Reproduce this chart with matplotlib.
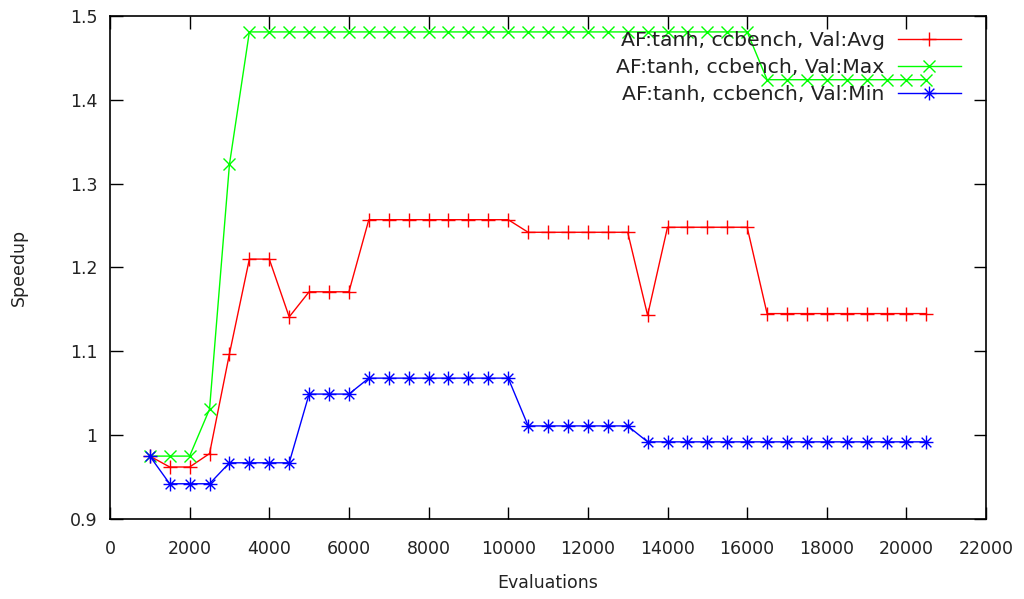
import matplotlib
matplotlib.use('Agg')
import matplotlib.pyplot as plt
from matplotlib.path import Path
from matplotlib.ticker import FuncFormatter

# Evaluations (x) and speedup per validation statistic
evals = list(range(1000, 21000, 500))

avg = [0.975, 0.962, 0.962, 0.978, 1.097, 1.210, 1.210, 1.141, 1.171, 1.171,
       1.171, 1.257, 1.257, 1.257, 1.257, 1.257, 1.257, 1.257, 1.257, 1.242,
       1.242, 1.242, 1.242, 1.242, 1.242, 1.143, 1.248, 1.248, 1.248, 1.248,
       1.248, 1.145, 1.145, 1.145, 1.145, 1.145, 1.145, 1.145, 1.145, 1.145]

vmax = [0.975, 0.975, 0.975, 1.031, 1.323, 1.481, 1.481, 1.481, 1.481, 1.481,
        1.481, 1.481, 1.481, 1.481, 1.481, 1.481, 1.481, 1.481, 1.481, 1.481,
        1.481, 1.481, 1.481, 1.481, 1.481, 1.481, 1.481, 1.481, 1.481, 1.481,
        1.481, 1.424, 1.424, 1.424, 1.424, 1.424, 1.424, 1.424, 1.424, 1.424]

vmin = [0.975, 0.942, 0.942, 0.942, 0.967, 0.967, 0.967, 0.967, 1.049, 1.049,
        1.049, 1.068, 1.068, 1.068, 1.068, 1.068, 1.068, 1.068, 1.068, 1.011,
        1.011, 1.011, 1.011, 1.011, 1.011, 0.992, 0.992, 0.992, 0.992, 0.992,
        0.992, 0.992, 0.992, 0.992, 0.992, 0.992, 0.992, 0.992, 0.992, 0.992]

labels = ['AF:tanh, ccbench, Val:Avg',
          'AF:tanh, ccbench, Val:Max',
          'AF:tanh, ccbench, Val:Min']

# gnuplot style asterisk: plus and cross together
star = Path([(-1, 0), (1, 0), (0, -1), (0, 1),
             (-0.7, -0.7), (0.7, 0.7), (-0.7, 0.7), (0.7, -0.7)],
            [Path.MOVETO, Path.LINETO] * 4)

txt = '#222222'

fig = plt.figure(figsize=(10.24, 5.99), dpi=100)
ax = fig.add_axes([0.1074, 0.1336, 0.8556, 0.8397])

ax.plot(evals, avg, color='#ff0000', lw=1, marker='+', ms=10, mew=1, label=labels[0])
ax.plot(evals, vmax, color='#00ff00', lw=1, marker='x', ms=9, mew=1, label=labels[1])
ax.plot(evals, vmin, color='#0000ff', lw=1, marker=star, ms=10, mew=1, label=labels[2])

ax.set_xlim(0, 22000)
ax.set_ylim(0.9, 1.5)
ax.set_xticks(range(0, 22001, 2000))
ax.set_yticks([0.9, 1.0, 1.1, 1.2, 1.3, 1.4, 1.5])
ax.yaxis.set_major_formatter(FuncFormatter(lambda v, p: '%g' % round(v, 2)))
ax.tick_params(direction='in', top=True, right=True, length=9, width=1,
               labelsize=12.5, color='black', labelcolor=txt)
ax.tick_params(axis='x', pad=15)
ax.tick_params(axis='y', pad=9)
for s in ax.spines.values():
    s.set_linewidth(1.2)

ax.set_xlabel('Evaluations', fontsize=12.5, labelpad=12, color=txt)
ax.set_ylabel('Speedup', fontsize=12.5, labelpad=30, color=txt)

leg = ax.legend(loc='upper right', frameon=False, markerfirst=False, fontsize=14.7,
                handlelength=3.1, handletextpad=0.65, labelspacing=0.4,
                borderpad=0, borderaxespad=0, bbox_to_anchor=(0.9715, 0.97))
for t in leg.get_texts():
    t.set_color(txt)

fig.savefig('out.png', dpi=100)
